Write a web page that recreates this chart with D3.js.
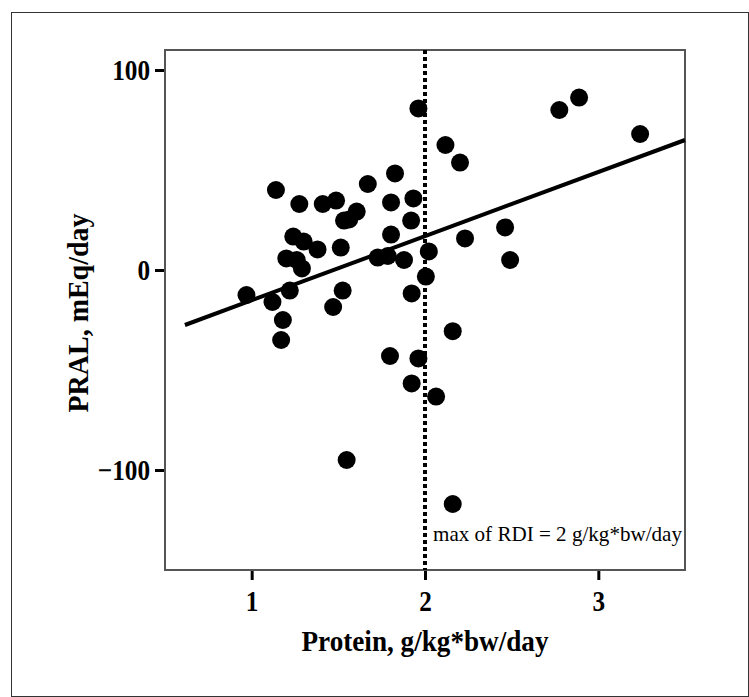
<!DOCTYPE html>
<html>
<head>
<meta charset="utf-8">
<script src="https://cdn.jsdelivr.net/npm/d3@7"></script>
<style>
  html, body { margin: 0; padding: 0; background: #fff; }
  svg { display: block; }
</style>
</head>
<body>
<svg id="chart" width="749" height="697"></svg>
<script>
// ---- data ----
const proteinX = [0.97, 1.12, 1.14, 1.18, 1.17, 1.20, 1.22, 1.24, 1.26, 1.275, 1.29, 1.30, 1.38, 1.41, 1.47,
  1.487, 1.514, 1.525, 1.533, 1.563, 1.548, 1.606, 1.67, 1.727, 1.785, 1.798, 1.804, 1.804, 1.827, 1.879,
  1.92, 1.923, 1.923, 1.933, 1.962, 1.962, 2.005, 2.022, 2.064, 2.118, 2.16, 2.16, 2.202, 2.231, 2.462,
  2.491, 2.775, 2.889, 3.241];
const pralY = [-12.5, -16, 40, -25, -35, 5.8, -10.3, 16.7, 5, 33, 0.8, 14.2, 10.3, 33, -18.5,
  34.7, 11.2, -10.3, 24.7, 25.3, -95, 29.2, 43, 6.2, 7, -43, 33.8, 17.7, 48.3, 5,
  24.7, -11.7, -56.7, 35.8, 80.8, -44.2, -3.3, 9.3, -63.3, 62.5, -30.6, -117, 53.7, 15.8, 21.3,
  5, 80, 86.2, 68];
const trendX = [0.615, 3.5];
const trendY = [-27.5, 65];
const xTicks = [1, 2, 3];
const yTicks = [-100, 0, 100];
const rdiLimit = 2;
const xDomain = [0.5, 3.5];
const yDomain = [-150, 110];
const xLabel = "Protein, g/kg*bw/day";
const yLabel = "PRAL, mEq/day";
const rdiLabel = "max of RDI = 2 g/kg*bw/day";

// ---- layout ----
const svg = d3.select("#chart");
const L = 165, R = 685, T = 50, B = 570;
const x = d3.scaleLinear().domain(xDomain).range([L, R]);
const y = d3.scaleLinear().domain(yDomain).range([B, T]);
const serif = "'Liberation Serif', 'Times New Roman', serif";

svg.append("rect").attr("width", 749).attr("height", 697).attr("fill", "#fff");
// outer frame
svg.append("rect").attr("x", 11.5).attr("y", 12.5).attr("width", 737).attr("height", 684)
  .attr("fill", "none").attr("stroke", "#333").attr("stroke-width", 1);

// axes
const xAxis = svg.append("g").attr("transform", `translate(0,${B})`)
  .call(d3.axisBottom(x).tickValues(xTicks).tickSize(10).tickPadding(10).tickFormat(d3.format("d")));
const yAxis = svg.append("g").attr("transform", `translate(${L},0)`)
  .call(d3.axisLeft(y).tickValues(yTicks).tickSize(10).tickPadding(5).tickFormat(d3.format("d")));
[xAxis, yAxis].forEach(g => {
  g.select(".domain").remove();
  g.selectAll(".tick line").attr("stroke", "#000").attr("stroke-width", 3);
  g.selectAll(".tick text").attr("fill", "#000").attr("font-family", serif)
    .attr("font-weight", "bold").attr("font-size", 29);
});
xAxis.selectAll(".tick text").attr("dy", "0.71em");
yAxis.selectAll(".tick text").attr("dy", "0.34em");
svg.selectAll(".tick text").each(function() {
  const w = this.getComputedTextLength();
  d3.select(this).attr("textLength", w * 0.87).attr("lengthAdjust", "spacingAndGlyphs");
});

// plot frame
svg.append("rect").attr("x", L).attr("y", T).attr("width", R - L).attr("height", B - T)
  .attr("fill", "none").attr("stroke", "#555").attr("stroke-width", 2);

// RDI dotted line
svg.append("line").attr("x1", x(rdiLimit)).attr("x2", x(rdiLimit))
  .attr("y1", y(yDomain[1])).attr("y2", y(yDomain[0]))
  .attr("stroke", "#000").attr("stroke-width", 4).attr("stroke-dasharray", "4,3");

// trend line
svg.append("path")
  .attr("d", d3.line().x(d => x(d[0])).y(d => y(d[1]))(trendX.map((v, i) => [v, trendY[i]])))
  .attr("stroke", "#000").attr("stroke-width", 4).attr("fill", "none");

// points
svg.append("g").selectAll("circle").data(proteinX.map((v, i) => [v, pralY[i]])).join("circle")
  .attr("cx", d => x(d[0])).attr("cy", d => y(d[1])).attr("r", 9).attr("fill", "#000");

// annotation
svg.append("text").attr("x", x(rdiLimit) + 8).attr("y", 541)
  .attr("font-family", serif).attr("font-size", 22).attr("fill", "#000")
  .attr("textLength", 249).attr("lengthAdjust", "spacingAndGlyphs").text(rdiLabel);

// axis titles
svg.append("text").attr("x", (L + R) / 2).attr("y", 651).attr("text-anchor", "middle")
  .attr("font-family", serif).attr("font-weight", "bold").attr("font-size", 30).attr("fill", "#000")
  .attr("textLength", 247).attr("lengthAdjust", "spacingAndGlyphs").text(xLabel);
svg.append("text").attr("transform", `translate(88,${(T + B) / 2 + 3}) rotate(-90)`)
  .attr("text-anchor", "middle")
  .attr("font-family", serif).attr("font-weight", "bold").attr("font-size", 30).attr("fill", "#000")
  .attr("textLength", 199).attr("lengthAdjust", "spacingAndGlyphs").text(yLabel);
</script>
</body>
</html>
